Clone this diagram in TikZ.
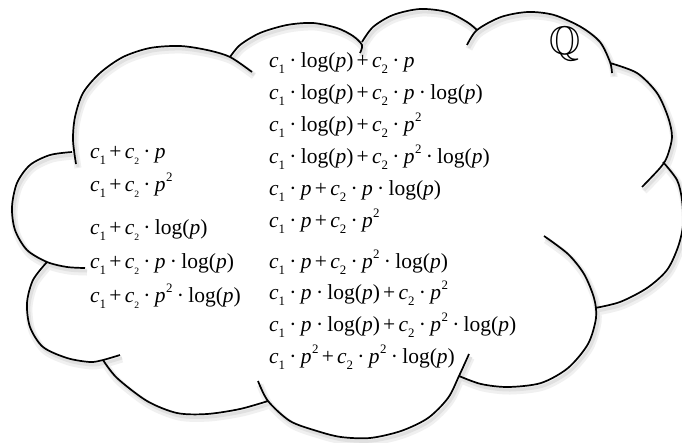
\documentclass[tikz,border=0pt]{standalone}
\usepackage{fontspec}
\setmainfont{Liberation Serif}
\usepackage{amssymb}
\usepackage{graphicx}
\newcommand{\csub}[2][0.6]{\textit{c}\raisebox{-0.3em}{\scalebox{#1}{#2}}}
\newcommand{\mdot}{\kern0.2em·\kern0.2em}
\newcommand{\plus}{\kern0.15em+\kern0.15em}
\newcommand{\pvar}{\textit{p}}
\newcommand{\psq}{\textit{p}\kern0.02em\raisebox{0.45em}{\scalebox{0.6}{2}}}
\newcommand{\logp}{log(\textit{p})}
\newcommand{\cloudpaths}{%
 plot[smooth] coordinates {(76,164) (73,140) (75,117) (83,93) (100,73) (123,57) (150,48) (180,46) (207,50) (230,57) (252,72)}
 plot[smooth] coordinates {(230,57) (240,45) (260,33) (287,25) (313,23) (337,28) (353,36) (362,45) (360,53)}
 plot[smooth] coordinates {(362,42) (373,27) (393,15) (420,9) (447,12) (467,22) (477,30)}
 plot[smooth] coordinates {(467,45) (477,30) (501,17) (528,12) (554,15) (581,27) (600,42) (610,62) (612,73)}
 plot[smooth] coordinates {(610,63) (637,73) (657,93) (668,117) (672,137) (667,157) (660,168) (642,187)}
 plot[smooth] coordinates {(663,162) (677,180) (682,200) (683,225) (678,247) (667,270) (647,288) (620,302) (595,308)}
 plot[smooth] coordinates {(544,236) (568,254) (584,274) (594,298) (596,318) (588,344) (568,368) (541,383) (508,387) (481,384) (459,376)}
 plot[smooth] coordinates {(469,354) (459,376) (448,398) (428,418) (401,431) (370,438) (341,437) (317,431) (290,421) (268,401) (258,381)}
 plot[smooth] coordinates {(103,360) (117,378) (147,401) (177,413) (207,414) (240,409) (268,401)}
 plot[smooth] coordinates {(47,262) (33,280) (27,303) (30,327) (43,347) (67,358) (90,362) (103,360) (120,355)}
 plot[smooth] coordinates {(72,152) (50,155) (30,165) (17,183) (12,207) (15,230) (27,250) (47,262) (67,267) (85,268)}
}
\tikzset{
 cloudline/.style={line width=1.7pt, black, line join=round},
 shadowwide/.style={line width=7pt, black!6, shift={(2,4)}},
 shadownarrow/.style={line width=3pt, black!12, shift={(2,3)}},
 formula/.style={anchor=base west, inner sep=0pt, font=\fontsize{21.5}{21.5}\selectfont},
 setsym/.style={inner sep=0pt, font=\fontsize{40}{40}\selectfont}
}
\begin{document}
\begin{tikzpicture}[x=1pt,y=-1pt]
\fill[white] (0,0) rectangle (682,442);
\useasboundingbox (0,0) rectangle (682,442);
\draw[shadowwide] \cloudpaths;
\draw[shadownarrow] \cloudpaths;
\draw[cloudline] \cloudpaths;
% right column
\node[formula] (r1) at (269,67) {\csub{1}\mdot\logp\plus\csub{2}\mdot\pvar};
\node[formula] (r2) at (269,99) {\csub{1}\mdot\logp\plus\csub{2}\mdot\pvar\mdot\logp};
\node[formula] (r3) at (269,131) {\csub{1}\mdot\logp\plus\csub{2}\mdot\psq};
\node[formula] (r4) at (269,163) {\csub{1}\mdot\logp\plus\csub{2}\mdot\psq\mdot\logp};
\node[formula] (r5) at (269,195) {\csub{1}\mdot\pvar\plus\csub{2}\mdot\pvar\mdot\logp};
\node[formula] (r6) at (269,227) {\csub{1}\mdot\pvar\plus\csub{2}\mdot\psq};
\node[formula] (r7) at (269,268) {\csub{1}\mdot\pvar\plus\csub{2}\mdot\psq\mdot\logp};
\node[formula] (r8) at (269,299) {\csub{1}\mdot\pvar\mdot\logp\plus\csub{2}\mdot\psq};
\node[formula] (r9) at (269,331) {\csub{1}\mdot\pvar\mdot\logp\plus\csub{2}\mdot\psq\mdot\logp};
\node[formula] (r10) at (269,363) {\csub{1}\mdot\psq\plus\csub{2}\mdot\psq\mdot\logp};
% left column
\node[formula] (l1) at (90,158) {\csub{1}\plus\csub[0.45]{2}\mdot\pvar};
\node[formula] (l2) at (90,191) {\csub{1}\plus\csub[0.45]{2}\mdot\psq};
\node[formula] (l3) at (90,234) {\csub{1}\plus\csub[0.45]{2}\mdot\logp};
\node[formula] (l4) at (90,268) {\csub{1}\plus\csub[0.45]{2}\mdot\pvar\mdot\logp};
\node[formula] (l5) at (90,302) {\csub{1}\plus\csub[0.45]{2}\mdot\psq\mdot\logp};
\node[setsym] (q) at (565,44) {$\mathbb{Q}$};
\end{tikzpicture}
\end{document}
